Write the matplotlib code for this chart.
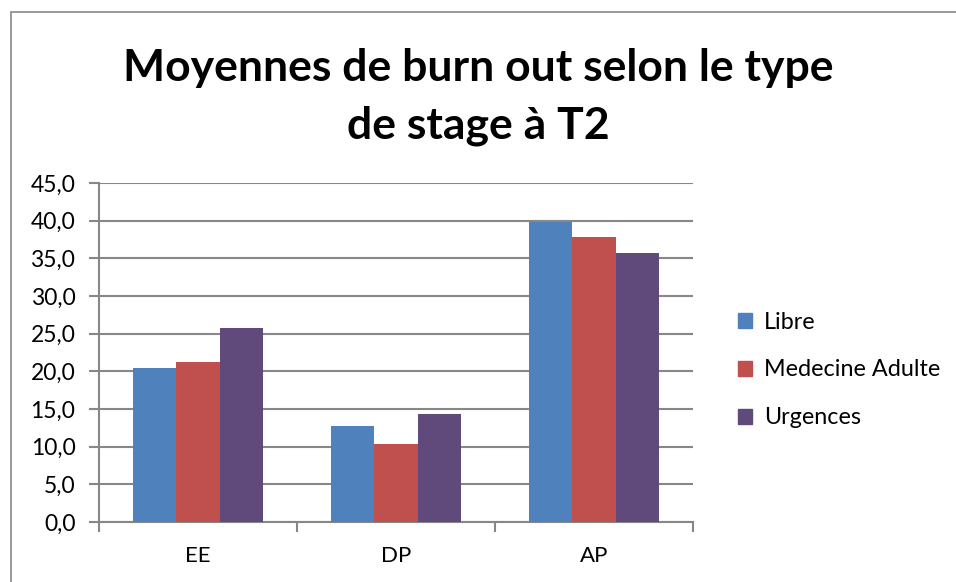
import matplotlib as mpl
mpl.use('Agg')
import numpy as np
import matplotlib.pyplot as plt
from matplotlib.patches import Rectangle, Patch

plt.rcParams['font.family'] = ['Lato', 'DejaVu Sans']

# data
categories = ['EE', 'DP', 'AP']
series = ['Libre', 'Medecine Adulte', 'Urgences']
libre = [20.5, 12.7, 39.8]
medecine = [21.2, 10.4, 37.8]
urgences = [25.8, 14.3, 35.7]
colors = ['#4F81BD', '#C0504D', '#604A7B']
yticks = np.arange(0, 46, 5)

fig = plt.figure(figsize=(9.56, 5.82), dpi=100)
fig.patches.append(Rectangle((11 / 956, -0.1), 1.2, 1 - 12 / 582 + 0.1,
                             transform=fig.transFigure, fill=False,
                             edgecolor='#878787', linewidth=1.2))

ax = fig.add_axes([99 / 956, 1 - 522 / 582, 594 / 956, 339 / 582])

x = np.arange(len(categories))
w = 0.22
for i, (vals, name) in enumerate(zip([libre, medecine, urgences], series)):
    ax.bar(x + (i - 1) * w, vals, w, color=colors[i], label=name, zorder=3)

ax.set_xlim(-0.5, 2.5)
ax.set_ylim(0, 45)
ax.set_yticks(yticks)
ax.set_yticklabels([f'{v:.1f}'.replace('.', ',') for v in yticks], fontsize=16.5)
ax.yaxis.grid(True, color='#878787', linewidth=1.5, zorder=0)
ax.set_xticks(x)
ax.set_xticklabels(categories, fontsize=16)
ax.set_xticks([-0.5, 0.5, 1.5, 2.5], minor=True)
ax.tick_params(axis='x', which='major', length=0, pad=17)
ax.tick_params(axis='x', which='minor', length=7, color='#878787', width=1.5)
ax.tick_params(axis='y', length=7, color='#878787', width=1.5, pad=10)
for s in ['top', 'right']:
    ax.spines[s].set_visible(False)
for s in ['left', 'bottom']:
    ax.spines[s].set_color('#878787')
    ax.spines[s].set_linewidth(1.5)

handles = [Patch(color=c) for c in colors]
fig.legend(handles, series, loc='center left', bbox_to_anchor=(717 / 956, 1 - 370 / 582),
           frameon=False, fontsize=16.8, handlelength=0.6, handleheight=0.6,
           handletextpad=0.5, labelspacing=1.15)

fig.text(0.5, 1 - 97 / 582, 'Moyennes de burn out selon le type\nde stage à T2',
         ha='center', va='center', fontsize=32, fontweight='bold', linespacing=1.5)

fig.savefig('out.png', dpi=100)
